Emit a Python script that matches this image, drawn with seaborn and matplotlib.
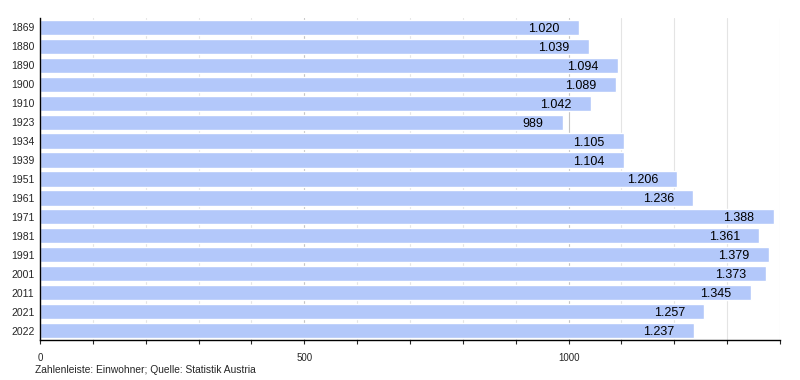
import matplotlib
matplotlib.use("Agg")
import matplotlib.pyplot as plt
import seaborn as sns
from matplotlib import ticker

years = ["1869", "1880", "1890", "1900", "1910", "1923", "1934", "1939", "1951",
         "1961", "1971", "1981", "1991", "2001", "2011", "2021", "2022"]
einwohner = [1020, 1039, 1094, 1089, 1042, 989, 1105, 1104, 1206,
             1236, 1388, 1361, 1379, 1373, 1345, 1257, 1237]
x_ticks = [0, 500, 1000]
footnote = "Zahlenleiste: Einwohner; Quelle: Statistik Austria"

sns.set_style("white")
plt.rcParams["font.family"] = ["Liberation Sans", "DejaVu Sans"]

fig = plt.figure(figsize=(8, 3.8), dpi=100)
ax = fig.add_axes([0.05, 0.105, 0.925, 0.848])

# Gitterlinien hinter den Balken
for v in range(100, 1400 + 1, 100):
    col = "#c4c4c4" if v % 500 == 0 else "#e4e4e4"
    ax.axvline(v, color=col, lw=0.8, zorder=0)

sns.barplot(x=einwohner, y=years, orient="h", color="#b3c8fa", saturation=1,
            width=0.8, ax=ax, zorder=2)

ax.set_xlim(0, 1400)
ax.set_ylim(len(years) - 0.5, -0.5)
ax.xaxis.set_major_locator(ticker.FixedLocator(x_ticks))
ax.xaxis.set_minor_locator(ticker.MultipleLocator(100))
ax.grid(False)

# Werte an den Balken
for i, v in enumerate(einwohner):
    label = f"{v:,}".replace(",", ".")
    ax.annotate(label, xy=(v, i), xytext=(-14, 0), textcoords="offset points",
                ha="right", va="center_baseline", fontsize=9, color="black", zorder=3)

for side in ["top", "right"]:
    ax.spines[side].set_visible(False)
ax.spines["left"].set_color("black")
ax.spines["bottom"].set_color("black")
ax.spines["left"].set_linewidth(1)
ax.spines["bottom"].set_linewidth(1)

ax.tick_params(axis="x", which="both", direction="out", length=3, width=0.8,
               labelsize=7, bottom=True, pad=6)
ax.tick_params(axis="y", length=0, labelsize=7.5, pad=4)
ax.set_xlabel("")
ax.set_ylabel("")

fig.text(0.044, 0.012, footnote, fontsize=7.4, ha="left", va="bottom")

fig.savefig("out.png", dpi=100)
